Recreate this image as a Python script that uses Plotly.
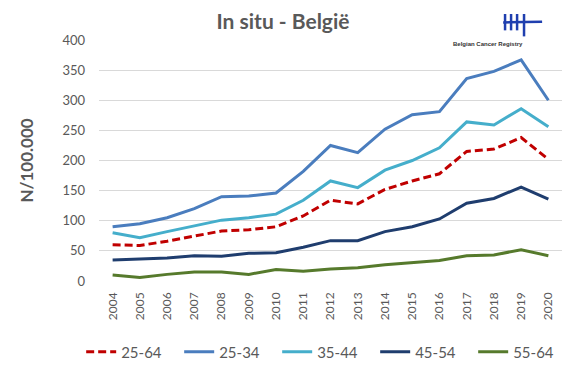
import plotly.graph_objects as go

years = [str(y) for y in range(2004, 2021)]
s_25_64 = [60, 59, 66, 75, 83, 85, 90, 108, 134, 128, 152, 166, 178, 215, 219, 238, 202]
s_25_34 = [90, 95, 105, 120, 140, 141, 146, 182, 225, 213, 252, 276, 281, 336, 348, 367, 300]
s_35_44 = [80, 72, 82, 91, 101, 105, 111, 134, 166, 155, 184, 200, 221, 264, 259, 286, 256]
s_45_54 = [35, 37, 38, 42, 41, 46, 47, 56, 67, 67, 82, 90, 103, 129, 137, 156, 136]
s_55_64 = [10, 6, 11, 15, 15, 11, 19, 16, 20, 22, 27, 30, 34, 42, 43, 52, 42]
y_ticks = [0, 50, 100, 150, 200, 250, 300, 350, 400]

series = [
    ("25-64", s_25_64, "#C00000", "8px,4px"),
    ("25-34", s_25_34, "#4A7DBE", "solid"),
    ("35-44", s_35_44, "#45AECB", "solid"),
    ("45-54", s_45_54, "#1F3D6E", "solid"),
    ("55-64", s_55_64, "#567A2C", "solid"),
]

fig = go.Figure()
for name, vals, col, dash in series:
    fig.add_trace(go.Scatter(x=years, y=vals, name=name, mode="lines",
                             line=dict(color=col, width=3, dash=dash)))

font_fam = "Lato, 'Open Sans', sans-serif"
fig.update_layout(
    width=568, height=375,
    margin=dict(l=99, r=6, t=40, b=94, autoexpand=False),
    paper_bgcolor="white", plot_bgcolor="white",
    font=dict(family=font_fam, color="#595959"),
    showlegend=True,
    title=dict(text="<b>In situ - België</b>", x=283 / 568, xanchor="center", xref="container",
               y=1 - 22 / 375, yanchor="middle", yref="container", automargin=False,
               font=dict(size=21, color="#595959")),
    legend=dict(orientation="h", x=-0.0385, xref="paper", xanchor="left",
                y=-0.295, yref="paper", yanchor="middle",
                font=dict(size=15, color="#595959"),
                entrywidth=53, itemwidth=30, traceorder="normal",
                itemclick=False, bgcolor="rgba(0,0,0,0)"),
    xaxis=dict(type="category", range=[-0.5, 16.5], showgrid=False,
               tickangle=-90, tickfont=dict(size=12, color="#595959"),
               showline=False, ticks="", zeroline=False, ticklabelstandoff=8),
    yaxis=dict(range=[0, 400], tickvals=y_ticks, showgrid=True,
               gridcolor="#D9D9D9", gridwidth=1, zeroline=False,
               tickfont=dict(size=13, color="#595959"), ticks="",
               ticklabelstandoff=13,
               title=dict(text="<b>N/100.000</b>", font=dict(size=17, color="#595959"),
                          standoff=24)),
)

# Logo (Belgian Cancer Registry)
logo_col = "#1F3FAF"
for x0, y0, y1 in [(0.877, 1.108, 1.040), (0.890, 1.108, 1.040), (0.903, 1.108, 1.040), (0.918, 1.108, 1.015)]:
    fig.add_shape(type="line", xref="paper", yref="paper", x0=x0, x1=x0,
                  y0=y0, y1=y1, line=dict(color=logo_col, width=2.5))
fig.add_shape(type="line", xref="paper", yref="paper", x0=0.873, x1=0.957,
              y0=1.073, y1=1.076, line=dict(color=logo_col, width=2.5))
fig.add_annotation(text="<b>Belgian Cancer Registry</b>", xref="paper", yref="paper",
                   x=0.92, y=0.985, showarrow=False, yanchor="middle",
                   font=dict(size=6, color="#333333", family="Liberation Sans"))

fig.write_html("out.html", config={"displayModeBar": False},
               post_script="document.body.style.margin='0';document.body.style.padding='0';")
